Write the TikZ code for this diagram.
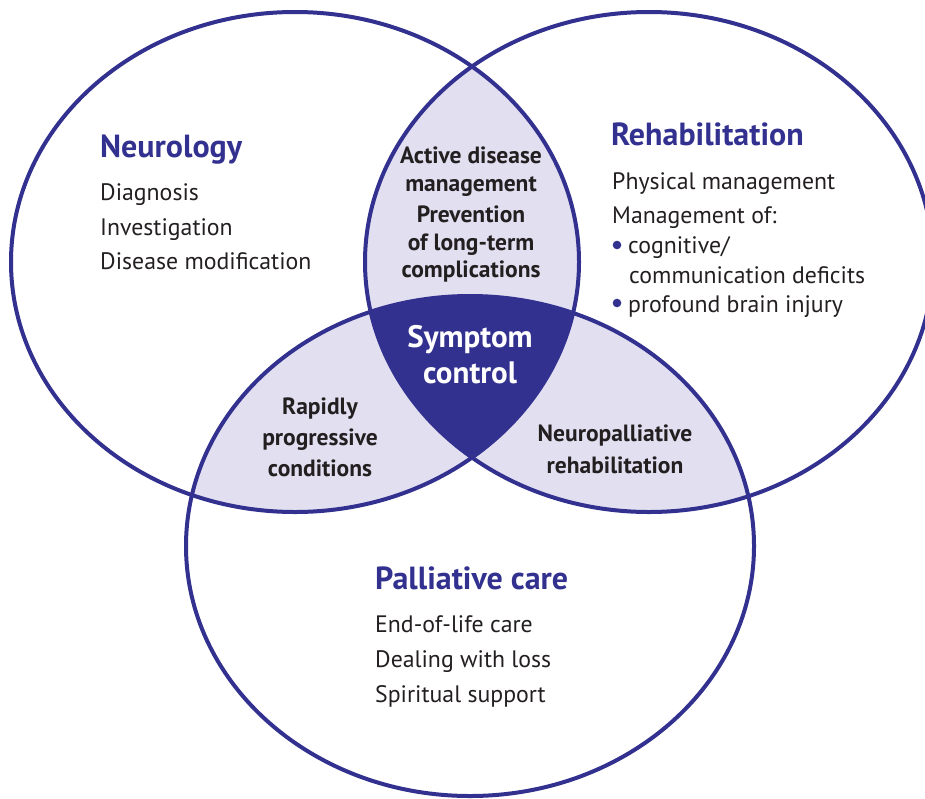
\documentclass[tikz,border=0pt]{standalone}
\usepackage{fontspec}
\setmainfont{PT Sans}
\definecolor{venblue}{HTML}{33318F}
\definecolor{venlav}{HTML}{E1DFF0}
\definecolor{ventext}{HTML}{231F20}
\tikzset{
  oval/.style={x radius=284,y radius=250},
  ring/.style={draw=venblue,line width=4pt},
  title/.style={anchor=base west,inner sep=0pt,text=venblue,font=\fontsize{32}{36}\selectfont\bfseries},
  item/.style={anchor=base west,inner sep=0pt,text=ventext,font=\fontsize{23.8}{28}\selectfont},
  overlap/.style={anchor=base,inner sep=0pt,text=ventext,font=\fontsize{23.5}{28}\selectfont\bfseries},
  core/.style={anchor=base,inner sep=0pt,text=white,font=\fontsize{31}{36}\selectfont\bfseries}
}
\begin{document}
\begin{tikzpicture}[line cap=round,line join=round,x=1pt,y=-1pt]
\clip (0,0) rectangle (925,798);
\coordinate (neu) at (295,262);
\coordinate (reh) at (649,262);
\coordinate (pal) at (470,546);
% overlaps of two
\begin{scope}
\clip (neu) ellipse [oval];
\fill[venlav] (reh) ellipse [oval];
\fill[venlav] (pal) ellipse [oval];
\end{scope}
\begin{scope}
\clip (reh) ellipse [oval];
\fill[venlav] (pal) ellipse [oval];
\end{scope}
% overlap of all three
\begin{scope}
\clip (neu) ellipse [oval];
\clip (reh) ellipse [oval];
\fill[venblue] (pal) ellipse [oval];
\end{scope}
\foreach \c in {neu,reh,pal}
  \draw[ring] (\c) ellipse [oval];
% Neurology
\node[title] (neutitle) at (100,157) {Neurology};
\node[item] (diag) at (100,200) {Diagnosis};
\node[item] (invest) at (100,235) {Investigation};
\node[item] (modif) at (100,269) {Disease modification};
% Rehabilitation
\node[title] (rehtitle) at (611,145) {Rehabilitation};
\node[item] (phys) at (612,189) {Physical management};
\node[item] (mgmt) at (612,223) {Management of:};
\node[item] (cogn) at (628,253) {cognitive/};
\node[item] (comm) at (629,283) {communication deficits};
\node[item] (brain) at (628,312) {profound brain injury};
\foreach \y in {245,303}
  \fill[venblue] (617,\y) circle [radius=4.3];
% Palliative care
\node[title] (paltitle) at (375,589) {Palliative care};
\node[item] (eol) at (375,632) {End-of-life care};
\node[item] (loss) at (375,667) {Dealing with loss};
\node[item] (spirit) at (375,702) {Spiritual support};
% overlaps
\node[overlap] (active) at (471,163) {Active disease};
\node[overlap] (manage) at (471,191) {management};
\node[overlap] (prev) at (471,222) {Prevention};
\node[overlap] (longterm) at (471,250) {of long-term};
\node[overlap] (compl) at (471,277) {complications};
\node[overlap] (rapid) at (320,414) {Rapidly};
\node[overlap] (progr) at (320,445) {progressive};
\node[overlap] (cond) at (320,476) {conditions};
\node[overlap] (neuropal) at (615,441) {Neuropalliative};
\node[overlap] (rehab) at (615,473) {rehabilitation};
\node[core] (symptom) at (470,347) {Symptom};
\node[core] (control) at (470,383) {control};
\end{tikzpicture}
\end{document}
